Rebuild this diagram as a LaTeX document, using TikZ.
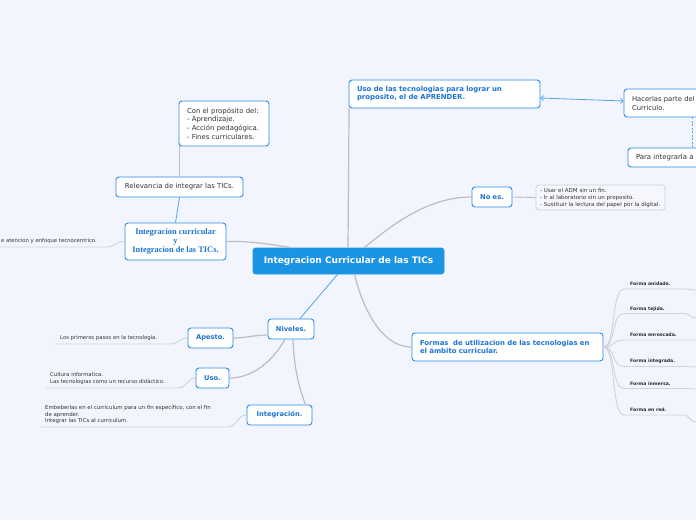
\documentclass[tikz,border=0pt]{standalone}
\usepackage{fontspec}
\setmainfont{DejaVu Sans}
\newfontfamily\serifb{Liberation Serif}
\usetikzlibrary{arrows.meta}
\definecolor{bg}{HTML}{F2F5FD}
\definecolor{bluebd}{HTML}{2A8BE8}
\definecolor{bluetx}{HTML}{1B74D6}
\definecolor{centralc}{HTML}{1B95E3}
\definecolor{grayln}{HTML}{BDBDBD}
\definecolor{leafln}{HTML}{CFD3DB}
\definecolor{darktx}{HTML}{333333}
\definecolor{listbd}{HTML}{CDD1DA}
\definecolor{listbg}{HTML}{F5F7FC}
\begin{document}
\begin{tikzpicture}[x=1pt,y=1pt,
  box/.style={draw=bluebd, fill=white, line width=0.9pt, rounded corners=3pt, inner sep=0pt},
  bluebold/.style={text=bluetx, font=\bfseries\fontsize{6.9}{8}\selectfont},
  smallbold/.style={text=bluetx, font=\bfseries\fontsize{6.7}{8}\selectfont},
  darkreg/.style={text=darktx, font=\fontsize{6.9}{8.6}\selectfont},
  leaftxt/.style={text=darktx, font=\fontsize{5.3}{7}\selectfont, inner sep=0pt, align=left},
  formatxt/.style={text=darktx!85!black, font=\bfseries\fontsize{4.6}{6}\selectfont, inner sep=0pt, anchor=west},
  conn/.style={draw=grayln, line width=1.2pt},
  bconn/.style={draw=bluebd!80, line width=0.8pt},
  leafline/.style={draw=leafln, line width=0.9pt},
]
\useasboundingbox (0,0) rectangle (696,-520);
\clip (0,0) rectangle (696,-520);
\fill[bg] (0,0) rectangle (696,-520);

% ---------- nodes ----------
\node[box, fill=centralc, draw=centralc, text=white, minimum width=191, minimum height=26,
  font=\bfseries\fontsize{9}{10}\selectfont] (c) at (348.5,-261) {Integracion Curricular de las TICs};

\node[box, bluebold, minimum width=191, minimum height=28, text width=175, align=left] (uso) at (444.5,-94)
  {Uso de las tecnologias para lograr un\\proposito, el de APRENDER.};
\node[box, darkreg, font=\fontsize{6.8}{9}\selectfont, minimum width=136, minimum height=28, text width=120, align=left] (hac) at (692,-103)
  {Hacerlas parte del\\Curriculo.};
\node[box, darkreg, minimum width=128, minimum height=19, text width=112, align=left] (para) at (692,-157.5)
  {Para integrarla a};

\node[box, smallbold, minimum width=40, minimum height=20] (noes) at (492,-197) {No es.};
\node[draw=listbd, fill=listbg, line width=0.8pt, rounded corners=3pt, inner sep=0pt, minimum width=129, minimum height=25,
  text width=121, align=left, text=darktx, font=\fontsize{5.5}{7}\selectfont] (lst) at (600.5,-197.5)
  {- Usar el ADM sin un fin.\\- Ir al laboratorio sin un proposito.\\- Sustituir la lectura del papel por la digital.};

\node[box, bluebold, minimum width=191, minimum height=28, text width=175, align=left] (formas) at (507.5,-347)
  {Formas\ \ de utilizacion de las tecnologias en\\el ámbito curricular.};

\node[formatxt] (f1) at (630,-283.5) {Forma anidada.};
\node[formatxt] (f2) at (630,-309) {Forma tejida.};
\node[formatxt] (f3) at (630,-335) {Forma enroscada.};
\node[formatxt] (f4) at (630,-361) {Forma integrada.};
\node[formatxt] (f5) at (630,-383.5) {Forma inmersa.};
\node[formatxt] (f6) at (630,-409.5) {Forma en red.};

\node[box, text=bluetx, font=\serifb\bfseries\fontsize{8.4}{8.6}\selectfont, minimum width=101, minimum height=37, align=center] (intl) at (175.5,-241.5)
  {Integracion curricular\\y\\Integracion de las TICs.};
\node[box, darkreg, minimum width=127, minimum height=20] (rel) at (179.5,-187) {Relevancia de integrar las TICs.};
\node[box, darkreg, minimum width=90, minimum height=45, text width=74, align=left] (con) at (224,-123.5)
  {Con el propósito del:\\- Aprendizaje.\\- Acción pedagógica.\\- Fines curriculares.};

\node[box, smallbold, minimum width=46, minimum height=20] (niv) at (291,-329) {Niveles.};
\node[box, smallbold, minimum width=45, minimum height=20] (ape) at (210.5,-338) {Apesto.};
\node[box, smallbold, minimum width=33, minimum height=20] (usob) at (212.5,-378) {Uso.};
\node[box, smallbold, minimum width=65, minimum height=20] (intb) at (279.5,-415) {Integración.};

% leaf texts
\node[leaftxt, anchor=east] (tecno) at (97,-241) {e atencion y enfoque tecnocentrico.};
\node[leaftxt, anchor=west] (apel) at (60,-338) {Los primeros pasos en la tecnología.};
\node[leaftxt, anchor=west] (usol) at (50,-378.5) {Cultura informatica.\\Las tecnologias como un recurso didáctico.};
\node[leaftxt, anchor=west, font=\fontsize{5.4}{6.6}\selectfont] (intbl) at (45,-414.5)
  {Embeberlas en el curriculum para un fin específico, con el fin\\de aprender.\\Integrar las TICs al curriculum.};

% coordinates for free ends
\coordinate (tecA) at (0,-247);   \coordinate (tecB) at (107,-247);
\coordinate (apeA) at (55,-344);  \coordinate (apeB) at (170,-344);
\coordinate (usoA) at (46,-388);  \coordinate (usoB) at (178,-388);
\coordinate (intA) at (41,-427);  \coordinate (intB) at (228,-427);

% ---------- connectors ----------
\draw[conn] ([xshift=-0.5pt]c.north) -- ([xshift=0.5pt]uso.south west);
\draw[bconn, {Straight Barb[length=2.5pt]}-{Straight Barb[length=2.5pt]}] ([yshift=-4pt]uso.east) -- ([yshift=2pt]hac.west);
\draw[bconn, dashed, dash pattern=on 2pt off 1.5pt] (hac.south) -- (para.north);

\draw[conn] ([xshift=16pt]c.north) .. controls (395,-222) and (430,-197) .. (noes.west);
\draw[conn, line width=0.9pt] (noes.east) -- (lst.west);

\draw[conn] ([xshift=6pt]c.south) .. controls (362,-305) and (380,-347) .. (formas.west);

\foreach \n/\y/\e in {f1/-289/-290, f2/-313.5/-318, f3/-340/-340, f4/-366.5/-367, f5/-388.5/-389, f6/-415/-422}{
  \draw[leafline] (formas.east) .. controls (616,-347) and (611,\y) .. (624,\y) -- (684,\y) .. controls (690,\y) and (689,\e) .. (697,\e);
}

\draw[conn] ([xshift=-58pt]c.north) .. controls (265,-243) and (245,-241) .. (intl.east);
\draw[leafline] (tecA) -- (tecB) .. controls (115,-247) and (115,-241) .. (intl.west);
\draw[bconn] (rel.south) -- (intl.north);
\draw[conn] ([xshift=1pt]con.south west |- rel.north) -- ([xshift=1pt]con.south west);

\draw[bconn] ([xshift=-11pt]c.south) -- ([xshift=9pt]niv.north);
\draw[conn] ([yshift=-6pt]niv.west) .. controls (255,-335) and (245,-338) .. (ape.east);
\draw[conn] ([xshift=-6pt]niv.south) .. controls (270,-365) and (250,-378) .. (usob.east);
\draw[conn] ([xshift=2pt]niv.south) .. controls (294,-370) and (300,-390) .. ([xshift=26pt]intb.north);

\draw[leafline] (apeA) -- (apeB) .. controls (179,-344) and (179,-338) .. (ape.west);
\draw[leafline] (usoA) -- (usoB) .. controls (187,-388) and (187,-378) .. (usob.west);
\draw[leafline] (intA) -- (intB) .. controls (237,-427) and (237,-415) .. (intb.west);
\end{tikzpicture}
\end{document}
